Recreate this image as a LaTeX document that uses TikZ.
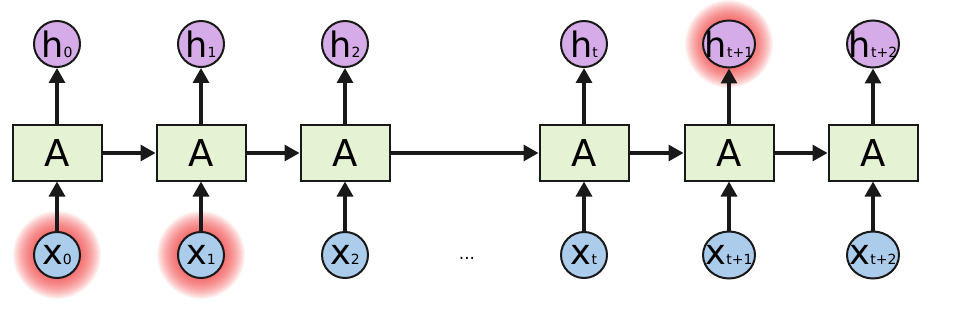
\documentclass[tikz,border=0pt]{standalone}
\usepackage{fontspec}
\setmainfont{DejaVu Sans}
\usetikzlibrary{arrows.meta,shapes.geometric}
\definecolor{boxfill}{RGB}{229,242,212}
\definecolor{hfill}{RGB}{214,172,232}
\definecolor{xfill}{RGB}{171,204,234}
\definecolor{edge}{RGB}{25,25,25}
\definecolor{glowc}{RGB}{240,50,50}
\newcommand{\mainletter}[1]{\fontsize{35}{35}\selectfont #1}
\newcommand{\subletter}[1]{{\fontsize{14}{14}\selectfont #1}}
\begin{document}
\begin{tikzpicture}[x=1pt,y=-1pt,
  abox/.style={draw=edge,line width=2pt,fill=boxfill,minimum width=89pt,minimum height=55pt,inner sep=0pt,font=\fontsize{37}{37}\selectfont},
  hcirc/.style={ellipse,draw=edge,line width=2pt,fill=hfill,minimum width=46pt,minimum height=46pt,inner sep=0pt},
  xcirc/.style={ellipse,draw=edge,line width=2pt,fill=xfill,minimum width=46pt,minimum height=46pt,inner sep=0pt},
  wide/.style={minimum width=52pt,minimum height=47pt},
  arr/.style={line width=3.3pt,draw=edge,-{Triangle[length=15pt,width=16pt]},shorten <=-0.5pt}
]
\useasboundingbox (0,0) rectangle (977,318);
% glows
\foreach \cx/\cy in {57/255,201/255,729/44}{
  \foreach \r in {23,24,...,44}{
    \fill[glowc,opacity=0.055] (\cx,\cy) circle (\r);
  }
}
% boxes
\node[abox] (A0) at (57,153) {A};
\node[abox] (A1) at (201,153) {A};
\node[abox] (A2) at (345,153) {A};
\node[abox] (At) at (584,153) {A};
\node[abox] (At1) at (729,153) {A};
\node[abox] (At2) at (873,153) {A};
% outputs
\node[hcirc,label={center:{\mainletter{h}\subletter{0}}}] (h0) at (57,44) {};
\node[hcirc,label={center:{\mainletter{h}\subletter{1}}}] (h1) at (201,44) {};
\node[hcirc,label={center:{\mainletter{h}\subletter{2}}}] (h2) at (345,44) {};
\node[hcirc,label={center:{\mainletter{h}\subletter{t}}}] (ht) at (584,44) {};
\node[hcirc,wide,label={center:{\mainletter{h}\subletter{t+1}}}] (ht1) at (729,44) {};
\node[hcirc,wide,label={center:{\mainletter{h}\subletter{t+2}}}] (ht2) at (873,44) {};
% inputs
\node[xcirc,label={center:{\mainletter{x}\subletter{0}}}] (x0) at (57,255) {};
\node[xcirc,label={center:{\mainletter{x}\subletter{1}}}] (x1) at (201,255) {};
\node[xcirc,label={center:{\mainletter{x}\subletter{2}}}] (x2) at (345,255) {};
\node[xcirc,label={center:{\mainletter{x}\subletter{t}}}] (xt) at (584,255) {};
\node[xcirc,wide,label={center:{\mainletter{x}\subletter{t+1}}}] (xt1) at (729,255) {};
\node[xcirc,wide,label={center:{\mainletter{x}\subletter{t+2}}}] (xt2) at (873,255) {};
\node[font=\fontsize{17}{17}\selectfont] (dots) at (467,258) {...};
% connectors
\foreach \a/\h/\x in {A0/h0/x0,A1/h1/x1,A2/h2/x2,At/ht/xt,At1/ht1/xt1,At2/ht2/xt2}{
  \draw[arr] (\a) -- (\h);
  \draw[arr] (\x) -- (\a);
}
\draw[arr] (A0) -- (A1);
\draw[arr] (A1) -- (A2);
\draw[arr] (A2) -- (At);
\draw[arr] (At) -- (At1);
\draw[arr] (At1) -- (At2);
\end{tikzpicture}
\end{document}
